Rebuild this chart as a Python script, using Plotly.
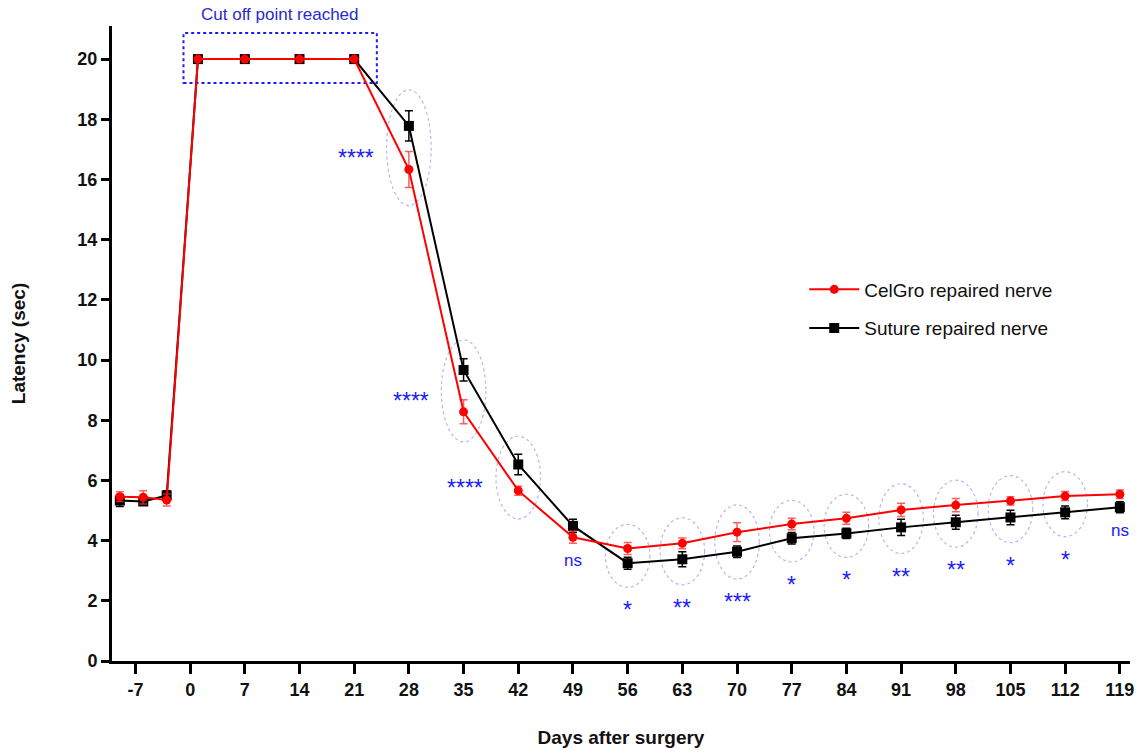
import plotly.graph_objects as go

# ---------------- data ----------------
days = [-9, -6, -3, 1, 7, 14, 21, 28, 35, 42, 49, 56, 63, 70, 77, 84, 91, 98, 105, 112, 119]
celgro = [5.46, 5.44, 5.35, 20, 20, 20, 20, 16.33, 8.28, 5.66, 4.11, 3.74, 3.91, 4.28,
          4.55, 4.74, 5.02, 5.18, 5.32, 5.48, 5.54]
celgro_sem = [0.16, 0.22, 0.20, 0, 0, 0, 0, 0.60, 0.40, 0.15, 0.20, 0.20, 0.18, 0.31,
              0.19, 0.20, 0.22, 0.22, 0.14, 0.15, 0.14]
suture = [5.33, 5.30, 5.50, 20, 20, 20, 20, 17.78, 9.67, 6.53, 4.49, 3.25, 3.38, 3.63,
          4.08, 4.24, 4.44, 4.61, 4.77, 4.94, 5.11]
suture_sem = [0.20, 0.10, 0.16, 0, 0, 0, 0, 0.50, 0.37, 0.34, 0.22, 0.20, 0.25, 0.19,
              0.19, 0.17, 0.27, 0.23, 0.24, 0.21, 0.18]

sig_days = [28, 35, 42, 49, 56, 63, 70, 77, 84, 91, 98, 105, 112, 119]
sig_labels = ["****", "****", "****", "ns", "*", "**", "***", "*", "*", "**", "**", "*", "*", "ns"]
left_label_days = [28, 35, 42]

x_ticks = [-7, 0, 7, 14, 21, 28, 35, 42, 49, 56, 63, 70, 77, 84, 91, 98, 105, 112, 119]
y_ticks = [0, 2, 4, 6, 8, 10, 12, 14, 16, 18, 20]

cutoff_days = [1, 7, 14, 21]
cutoff_value = 20

# ---------------- styles ----------------
FONT = "Liberation Sans, Arial, sans-serif"
BLUE = "#1a1aff"
RED = "#ff0000"

fig = go.Figure()

fig.add_trace(go.Scatter(
    x=days, y=suture, name="Suture repaired nerve", mode="lines+markers",
    line=dict(color="black", width=2),
    marker=dict(symbol="square", size=10, color="black"),
    error_y=dict(type="data", array=suture_sem, visible=True, color="black",
                 thickness=1.5, width=4),
    legendrank=2, legendgroup="b",
))
fig.add_trace(go.Scatter(
    x=days, y=celgro, name="CelGro repaired nerve", mode="lines+markers",
    line=dict(color=RED, width=2),
    marker=dict(symbol="circle", size=9, color=RED),
    error_y=dict(type="data", array=celgro_sem, visible=True, color="rgba(255,40,40,0.75)",
                 thickness=1.5, width=4),
    legendrank=1, legendgroup="a",
))

shapes = []
annotations = []
idx = {d: i for i, d in enumerate(days)}
HALF_W = 2.85
for d, lab in zip(sig_days, sig_labels):
    i = idx[d]
    a, b = celgro[i], suture[i]
    mid = (a + b) / 2
    low = min(a, b)
    if lab != "ns":
        half_h = abs(a - b) / 2 + max(celgro_sem[i], suture_sem[i]) + 0.6
        shapes.append(dict(type="circle", xref="x", yref="y",
                           x0=d - HALF_W, x1=d + HALF_W, y0=mid - half_h, y1=mid + half_h,
                           line=dict(color="#b3b7f2", width=1.2, dash="dot"), layer="below"))
        if d in left_label_days:
            annotations.append(dict(x=d, y=mid, xref="x", yref="y", text=lab, showarrow=False,
                                    xanchor="right", yanchor="middle", xshift=-33, yshift=-10,
                                    font=dict(family=FONT, size=23, color=BLUE)))
        else:
            annotations.append(dict(x=d, y=mid - half_h, xref="x", yref="y", text=lab,
                                    showarrow=False, xanchor="center", yanchor="middle",
                                    yshift=-23, font=dict(family=FONT, size=23, color=BLUE)))
    else:
        annotations.append(dict(x=d, y=low, xref="x", yref="y", text=lab, showarrow=False,
                                xanchor="center", yanchor="middle", yshift=-23,
                                font=dict(family=FONT, size=17, color=BLUE)))

# cut-off box
bx0 = cutoff_days[0] - 1.85
bx1 = cutoff_days[-1] + 2.9
by0 = cutoff_value - 0.79
by1 = cutoff_value + 0.87
shapes.append(dict(type="rect", xref="x", yref="y", x0=bx0, x1=bx1, y0=by0, y1=by1,
                   line=dict(color=BLUE, width=2, dash="dot"), layer="below"))
annotations.append(dict(x=(bx0 + bx1) / 2, y=by1, xref="x", yref="y",
                        text="Cut off point reached", showarrow=False,
                        xanchor="center", yanchor="bottom", yshift=7,
                        font=dict(family=FONT, size=17, color="#2a2ad0")))

fig.update_layout(
    width=1143, height=755, autosize=False,
    margin=dict(l=112, r=13, t=26, b=94),
    plot_bgcolor="white", paper_bgcolor="white",
    font=dict(family=FONT, color="black"),
    showlegend=True,
    legend=dict(x=0.68, y=0.615, xanchor="left", yanchor="top",
                font=dict(family=FONT, size=19, color="#111111"),
                bgcolor="rgba(0,0,0,0)", itemwidth=50, tracegroupgap=11),
    shapes=shapes,
    annotations=annotations,
)
fig.update_xaxes(
    range=[-10, 120.3], tickmode="array", tickvals=x_ticks,
    ticktext=[str(t) for t in x_ticks], automargin=False,
    showline=True, linecolor="black", linewidth=3, mirror=False,
    ticks="outside", ticklen=10, tickwidth=3, tickcolor="black",
    tickfont=dict(family=FONT, size=18, color="#111111", weight="bold"),
    showgrid=False, zeroline=False,
    title=dict(text="Days after surgery", standoff=33,
               font=dict(family=FONT, size=19, color="#111111", weight="bold")),
)
fig.update_yaxes(
    range=[0, 21.1], tickmode="array", tickvals=y_ticks, automargin=False,
    showline=True, linecolor="black", linewidth=3,
    ticks="outside", ticklen=8, tickwidth=3, tickcolor="black",
    tickfont=dict(family=FONT, size=18, color="#111111", weight="bold"),
    showgrid=False, zeroline=False,
    title=dict(text="Latency (sec)", standoff=47,
               font=dict(family=FONT, size=19, color="#111111", weight="bold")),
)

fig.write_html("out.html")
